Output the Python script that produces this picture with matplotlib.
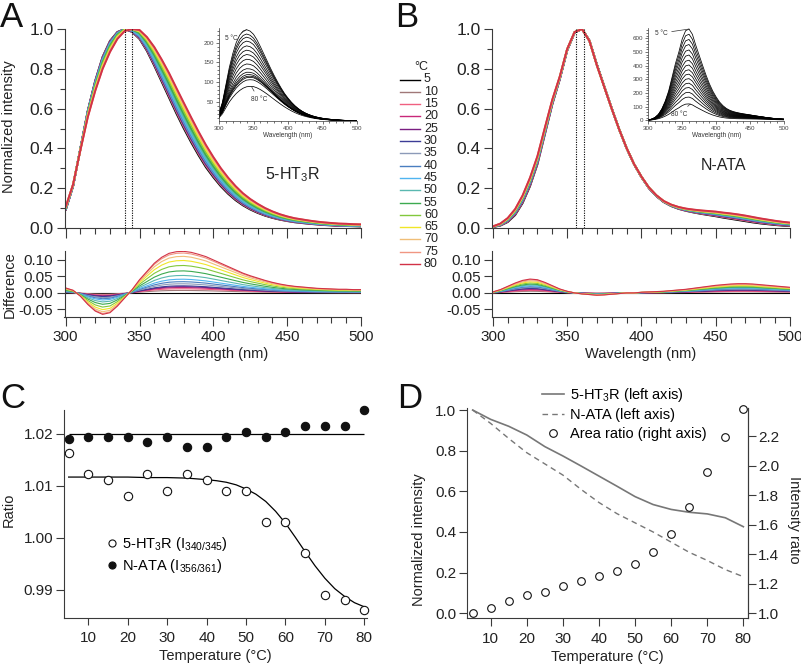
import numpy as np
import matplotlib
matplotlib.use('Agg')
import matplotlib.pyplot as plt
from matplotlib.lines import Line2D
from matplotlib.ticker import MultipleLocator, FormatStrFormatter

plt.rcParams['font.family'] = ['Liberation Sans', 'DejaVu Sans']
plt.rcParams['mathtext.fontset'] = 'custom'
plt.rcParams['mathtext.rm'] = 'Liberation Sans'
plt.rcParams['mathtext.it'] = 'Liberation Sans:italic'
plt.rcParams['axes.unicode_minus'] = False

# ---------------- data ----------------
temperatures = [5, 10, 15, 20, 25, 30, 35, 40, 45, 50, 55, 60, 65, 70, 75, 80]
temp_colors = ['#000000', '#a07878', '#f06080', '#c8287a', '#7a1e82', '#3c3c96',
               '#8c9ab8', '#4a7ec0', '#50b4f0', '#5ab8b0', '#3caa50', '#82c83c',
               '#f0e628', '#f0be78', '#f09682', '#d23246']

wavelength = [300, 305, 310, 315, 320, 325, 330, 335, 340, 345, 350, 355, 360, 365,
              370, 375, 380, 385, 390, 395, 400, 405, 410, 415, 420, 425, 430, 435,
              440, 445, 450, 455, 460, 465, 470, 475, 480, 485, 490, 495, 500]

# 5-HT3R normalized spectrum at 5 C and difference spectrum (80 C - 5 C)
spec_5ht3r_5C = [0.09, 0.21, 0.40, 0.59, 0.74, 0.86, 0.94, 0.985, 1.00, 0.985, 0.95,
                 0.89, 0.815, 0.735, 0.655, 0.575, 0.50, 0.43, 0.365, 0.305, 0.255,
                 0.21, 0.172, 0.14, 0.114, 0.093, 0.076, 0.062, 0.051, 0.042, 0.035,
                 0.029, 0.025, 0.021, 0.018, 0.015, 0.013, 0.011, 0.010, 0.009, 0.008]
diff_5ht3r_80C = [0.015, 0.008, -0.01, -0.035, -0.055, -0.065, -0.06, -0.04, -0.015,
                  0.01, 0.04, 0.065, 0.09, 0.108, 0.12, 0.125, 0.126, 0.123, 0.117,
                  0.11, 0.10, 0.09, 0.08, 0.07, 0.06, 0.052, 0.045, 0.038, 0.032,
                  0.027, 0.023, 0.02, 0.018, 0.016, 0.014, 0.013, 0.012, 0.011,
                  0.011, 0.010, 0.010]
diff_fraction_5ht3r = [0.0, 0.06, 0.10, 0.13, 0.15, 0.17, 0.22, 0.27, 0.33, 0.42,
                       0.53, 0.66, 0.78, 0.88, 0.96, 1.0]
inset_peak_5ht3r = [233, 222, 214, 204, 192, 181, 170, 158, 146, 134, 125, 119, 115,
                    112, 106, 89]

# N-ATA
spec_nata_5C = [0.005, 0.012, 0.03, 0.065, 0.125, 0.21, 0.32, 0.47, 0.62, 0.745, 0.89,
                0.98, 0.998, 0.94, 0.82, 0.71, 0.60, 0.495, 0.40, 0.32, 0.255, 0.20,
                0.16, 0.13, 0.11, 0.096, 0.086, 0.078, 0.071, 0.065, 0.059, 0.052,
                0.046, 0.04, 0.034, 0.028, 0.023, 0.019, 0.015, 0.012, 0.010]
diff_nata_80C = [0.003, 0.01, 0.02, 0.03, 0.038, 0.042, 0.04, 0.032, 0.022, 0.012,
                 0.005, 0.0, -0.003, -0.005, -0.007, -0.006, -0.004, -0.002, 0.0, 0.0,
                 0.002, 0.003, 0.004, 0.005, 0.007, 0.009, 0.011, 0.014, 0.017, 0.02,
                 0.023, 0.025, 0.027, 0.028, 0.028, 0.027, 0.025, 0.023, 0.021, 0.019,
                 0.017]
diff_fraction_nata = [0.0, 0.12, 0.18, 0.24, 0.30, 0.33, 0.40, 0.45, 0.52, 0.58, 0.64,
                      0.72, 0.80, 0.88, 0.95, 1.0]
inset_peak_nata = [668, 630, 592, 555, 515, 478, 440, 405, 370, 338, 305, 272, 240,
                   205, 170, 120]

peak_lines_5ht3r = [340, 345]
peak_lines_nata = [356, 361]

# Panel C
ratio_5ht3r = [1.0163, 1.0122, 1.0111, 1.0081, 1.0122, 1.0091, 1.0122, 1.0111, 1.0091,
               1.0091, 1.0030, 1.0030, 0.9970, 0.9890, 0.9880, 0.9860]
ratio_nata = [1.0191, 1.0194, 1.0194, 1.0194, 1.0184, 1.0194, 1.0174, 1.0174, 1.0194,
              1.0204, 1.0194, 1.0204, 1.0215, 1.0215, 1.0215, 1.0246]
fit_temp = [5, 10, 15, 20, 25, 30, 35, 40, 42.5, 45, 47.5, 50, 52.5, 55, 57.5, 60,
            62.5, 65, 67.5, 70, 72.5, 75, 77.5, 80]
fit_5ht3r = [1.0117, 1.0117, 1.0117, 1.0117, 1.0116, 1.0116, 1.0115, 1.0112, 1.0110,
             1.0107, 1.0102, 1.0094, 1.0084, 1.0070, 1.0051, 1.0028, 1.0001, 0.9973,
             0.9946, 0.9922, 0.9902, 0.9887, 0.9875, 0.9867]
fit_nata_level = 1.0200

# Panel D
intensity_5ht3r = [1.0, 0.954, 0.92, 0.877, 0.82, 0.774, 0.725, 0.675, 0.625, 0.574,
                   0.535, 0.511, 0.497, 0.489, 0.47, 0.426]
intensity_nata = [1.0, 0.934, 0.86, 0.79, 0.735, 0.68, 0.61, 0.545, 0.49, 0.445, 0.40,
                  0.35, 0.30, 0.26, 0.215, 0.18]
area_ratio = [1.0, 1.034, 1.083, 1.124, 1.147, 1.183, 1.221, 1.25, 1.287, 1.334, 1.418,
              1.54, 1.72, 1.96, 2.195, 2.38]

# ---------------- figure ----------------
W, H = 801, 666
fig = plt.figure(figsize=(W / 100, H / 100), dpi=100)
AXC = '#3a3a3a'
TXT = '#222222'


def rect(l, t, r, b):
    return [l / W, 1 - b / H, (r - l) / W, (b - t) / H]


def style(ax, spines=('left', 'bottom'), lw=0.8):
    for s in ax.spines:
        ax.spines[s].set_visible(s in spines)
        ax.spines[s].set_color(AXC)
        ax.spines[s].set_linewidth(lw)
    ax.tick_params(which='both', direction='out', colors=AXC, labelcolor=TXT, width=lw)
    ax.patch.set_alpha(0)


wl = np.array(wavelength)


def build(base, diff80, fracs):
    return [np.array(base) + f * np.array(diff80) for f in fracs]


def spectra_panel(top_rect, diff_rect, inset_rect, base, diff80, fracs, peaks,
                  plines, name, name_xy, inset_ymax, inset_major, inset_minor,
                  lab5, lab80):
    curves = build(base, diff80, fracs)
    ax = fig.add_axes(rect(*top_rect))
    style(ax)
    for c, col in zip(curves, temp_colors):
        ax.plot(wl, c / c.max(), color=col, lw=1.4, solid_capstyle='round')
    ax.vlines(plines, 0, 1.0, colors='k', linestyles=(0, (1, 1.2)), lw=0.8)
    ax.set_xlim(299.2, 500)
    ax.set_ylim(0, 1.0)
    ax.xaxis.set_major_locator(MultipleLocator(50))
    ax.xaxis.set_minor_locator(MultipleLocator(10))
    ax.yaxis.set_major_locator(MultipleLocator(0.2))
    ax.yaxis.set_minor_locator(MultipleLocator(0.1))
    ax.yaxis.set_major_formatter(FormatStrFormatter('%.1f'))
    ax.tick_params(axis='x', which='major', length=7, labelbottom=False)
    ax.tick_params(axis='x', which='minor', length=4.5)
    ax.tick_params(axis='y', which='major', length=5.5, labelsize=12.5, pad=2.5)
    ax.tick_params(axis='y', which='minor', length=3.5)
    ax.text(name_xy[0], name_xy[1], name, fontsize=11.5, color=TXT)

    axd = fig.add_axes(rect(*diff_rect))
    style(axd)
    for f, col in zip(fracs, temp_colors):
        axd.plot(wl, f * np.array(diff80), color=col, lw=0.8)
    axd.set_xlim(299.2, 500)
    axd.set_ylim(-0.073, 0.128)
    axd.xaxis.set_major_locator(MultipleLocator(50))
    axd.xaxis.set_minor_locator(MultipleLocator(10))
    axd.yaxis.set_major_locator(MultipleLocator(0.05))
    axd.yaxis.set_major_formatter(FormatStrFormatter('%.2f'))
    axd.tick_params(axis='x', which='major', length=6.5, labelsize=11, pad=3)
    axd.tick_params(axis='x', which='minor', length=4.3)
    axd.tick_params(axis='y', which='major', length=6, labelsize=11, pad=2)
    axd.set_xlabel('Wavelength (nm)', fontsize=10.5, color=TXT, labelpad=2)

    axi = fig.add_axes(rect(*inset_rect))
    style(axi, lw=0.5)
    for c, p in zip(curves, peaks):
        axi.plot(wl, c / c.max() * p, color='k', lw=0.55)
    axi.set_xlim(300, 500)
    axi.set_ylim(inset_ymax[0], inset_ymax[1])
    axi.xaxis.set_major_locator(MultipleLocator(50))
    axi.xaxis.set_minor_locator(MultipleLocator(10))
    axi.yaxis.set_major_locator(MultipleLocator(inset_major))
    axi.yaxis.set_minor_locator(MultipleLocator(inset_minor))
    axi.tick_params(which='major', length=2, labelsize=4.5, pad=1.5, labelcolor='#444')
    axi.tick_params(which='minor', length=1.2)
    axi.set_xlabel('Wavelength (nm)', fontsize=4.7, color='#333', labelpad=1)
    i0 = int(np.argmax(curves[0]))
    i1 = int(np.argmax(curves[-1]))
    axi.annotate('5 °C', xy=(wl[i0], peaks[0]), xytext=lab5, fontsize=4.7,
                 color='#333', ha='center', va='center',
                 arrowprops=dict(arrowstyle='-', lw=0.5, color='#333',
                                 shrinkA=1, shrinkB=0))
    axi.annotate('80 °C', xy=(wl[i1] + 2, peaks[-1]), xytext=lab80, fontsize=4.7,
                 color='#333', ha='center', va='center',
                 arrowprops=dict(arrowstyle='-', lw=0.5, color='#333',
                                 shrinkA=2, shrinkB=0))
    return ax, axd


axA, axAd = spectra_panel((64.5, 29, 361, 228), (64.5, 250.7, 361, 317),
                          (219, 28.5, 357, 120.7),
                          spec_5ht3r_5C, diff_5ht3r_80C, diff_fraction_5ht3r,
                          inset_peak_5ht3r, peak_lines_5ht3r,
                          '5-HT$_3$R', (435, 0.245), (2, 236), 50, 10,
                          (318, 210), (358, 55))
axB, axBd = spectra_panel((491.7, 29, 790, 228), (491.7, 250.7, 790, 317),
                          (648.3, 28.5, 784, 120.7),
                          spec_nata_5C, diff_nata_80C, diff_fraction_nata,
                          inset_peak_nata, peak_lines_nata,
                          'N-ATA', (440, 0.29), (-3, 672), 100, 20,
                          (319, 638), (345, 42))

fig.text(9.5 / W, 1 - 127 / H, 'Normalized intensity', rotation=90, ha='center',
         va='center', fontsize=10.5, color=TXT)
fig.text(9.5 / W, 1 - 285 / H, 'Difference', rotation=90, ha='center',
         va='center', fontsize=10.5, color=TXT)

# temperature legend
fig.text(421 / W, 1 - 67 / H, '°C', ha='center', va='center', fontsize=9, color=TXT)
for i, (t, col) in enumerate(zip(temperatures, temp_colors)):
    y = 1 - (79.5 + i * 12.3) / H
    fig.add_artist(Line2D([400 / W, 420 / W], [y, y], color=col, lw=1.0,
                          transform=fig.transFigure))
    fig.text(424 / W, y, str(t), ha='left', va='center', fontsize=9, color=TXT)

# ---------------- panel C ----------------
axC = fig.add_axes(rect(64.3, 410, 366.7, 618))
style(axC)
axC.plot(fit_temp, fit_5ht3r, color='k', lw=0.9)
axC.hlines(fit_nata_level, temperatures[0], temperatures[-1], colors='k', lw=0.9)
hC1, = axC.plot(temperatures, ratio_5ht3r, 'o', ms=6, mfc='white', mec='#111', mew=0.8,
                zorder=3, clip_on=False)
hC2, = axC.plot(temperatures, ratio_nata, 'o', ms=6, mfc='#111', mec='#111', mew=0.8,
                zorder=3, clip_on=False)
axC.set_xlim(3.9, 80.6)
axC.set_ylim(0.98455, 1.02462)
axC.xaxis.set_major_locator(MultipleLocator(10))
axC.yaxis.set_major_locator(MultipleLocator(0.01))
axC.yaxis.set_major_formatter(FormatStrFormatter('%.2f'))
axC.tick_params(axis='x', length=5, labelsize=11, pad=4)
axC.tick_params(axis='y', length=5.5, labelsize=11, pad=2.5)
axC.set_xlabel('Temperature (°C)', fontsize=10.5, color=TXT, labelpad=3)
fig.text(9 / W, 1 - 510 / H, 'Ratio', rotation=90, ha='center', va='center',
         fontsize=10.5, color=TXT)
axC.legend([hC1, hC2], ['5-HT$_3$R (I$_{340/345}$)', 'N-ATA (I$_{356/361}$)'],
           loc='upper left', bbox_to_anchor=(108 / W, 1 - 535 / H),
           bbox_transform=fig.transFigure, frameon=False, fontsize=10.5,
           handlelength=0.6, handletextpad=0.35, borderpad=0, borderaxespad=0,
           labelspacing=0.25, markerscale=0.85)

# ---------------- panel D ----------------
axD = fig.add_axes(rect(466.7, 408, 747.7, 618.3))
style(axD, spines=('left', 'bottom', 'right'))
hD1, = axD.plot(temperatures, intensity_5ht3r, color='#777777', lw=1.2)
hD2, = axD.plot(temperatures, intensity_nata, color='#777777', lw=1.0,
                dashes=(4, 3))
axD.set_xlim(3.35, 81.2)
axD.set_ylim(-0.0246, 1.01)
axD.xaxis.set_major_locator(MultipleLocator(10))
axD.yaxis.set_major_locator(MultipleLocator(0.2))
axD.yaxis.set_major_formatter(FormatStrFormatter('%.1f'))
axD.tick_params(axis='x', length=6, labelsize=11, pad=4)
axD.tick_params(axis='y', length=6, labelsize=11, pad=1.5)
axD.set_xlabel('Temperature (°C)', fontsize=10.5, color=TXT, labelpad=3)
fig.text(419 / W, 1 - 540 / H, 'Normalized intensity', rotation=90, ha='center',
         va='center', fontsize=10.5, color=TXT)

axD2 = axD.twinx()
style(axD2, spines=('right',))
hD3, = axD2.plot(temperatures, area_ratio, 'o', ms=5.5, mfc='white', mec='#111',
                 mew=0.8, clip_on=False)
axD2.set_ylim(0.966, 2.39)
axD2.yaxis.set_major_locator(MultipleLocator(0.2))
axD2.yaxis.set_major_formatter(FormatStrFormatter('%.1f'))
axD2.tick_params(axis='y', length=6, labelsize=11, pad=1.5)
fig.text(794 / W, 1 - 520 / H, 'Intensity ratio', rotation=270, ha='center',
         va='center', fontsize=10.5, color=TXT)
axD2.legend([hD1, hD2, hD3], ['5-HT$_3$R (left axis)', 'N-ATA (left axis)',
                              'Area ratio (right axis)'],
            loc='upper left', bbox_to_anchor=(541.5 / W, 1 - 386 / H),
            bbox_transform=fig.transFigure, frameon=False, fontsize=10.5,
            handlelength=1.55, handletextpad=0.4, borderpad=0, borderaxespad=0,
            labelspacing=0.3)

# panel letters
for lab, x, y in [('A', 0, 26.7), ('B', 395, 26.7), ('C', 0, 407.7), ('D', 397, 407.7)]:
    fig.text(x / W, 1 - y / H, lab, fontsize=25, color='#111', ha='left',
             va='baseline')

fig.savefig('out.png', dpi=100)
